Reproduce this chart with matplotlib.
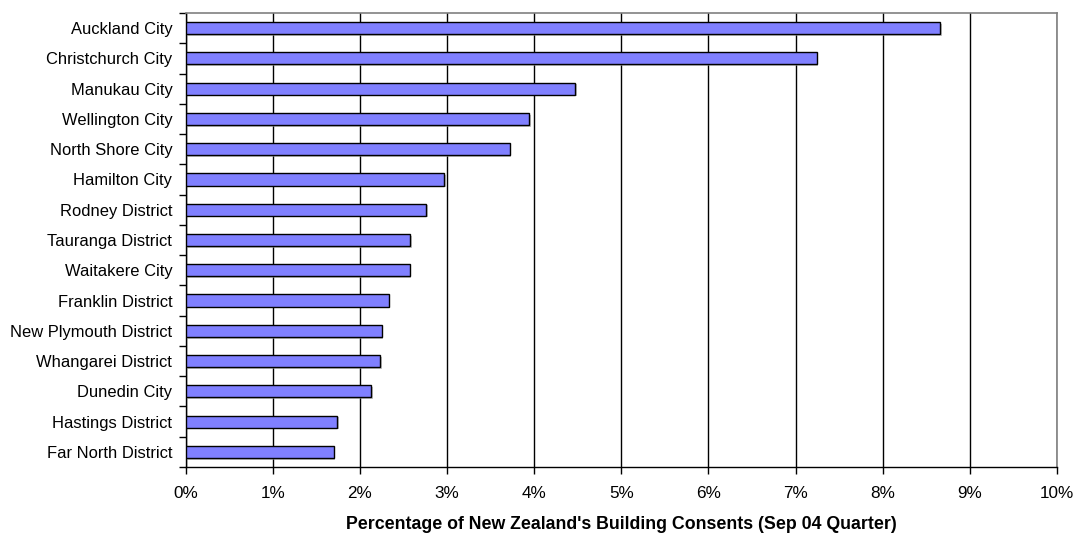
import matplotlib
matplotlib.use("Agg")
import matplotlib.pyplot as plt
import matplotlib.patheffects as pe
from matplotlib.ticker import FuncFormatter, MultipleLocator
import numpy as np

plt.rcParams['font.family'] = ['Liberation Sans', 'DejaVu Sans']

councils = ['Auckland City', 'Christchurch City', 'Manukau City', 'Wellington City',
            'North Shore City', 'Hamilton City', 'Rodney District', 'Tauranga District',
            'Waitakere City', 'Franklin District', 'New Plymouth District',
            'Whangarei District', 'Dunedin City', 'Hastings District', 'Far North District']
share = [8.66, 7.24, 4.47, 3.94, 3.72, 2.97, 2.76, 2.58, 2.57, 2.33, 2.25, 2.23, 2.13, 1.74, 1.70]

fig = plt.figure(figsize=(10.75, 5.33), dpi=100)
ax = fig.add_axes([0.1726, 0.1238, 0.9833 - 0.1726, 0.9756 - 0.1238])

y = np.arange(len(councils))
bars = ax.barh(y, share, height=0.4, color='#8080FF', edgecolor='black', linewidth=1.0,
               zorder=3)
for b in bars:
    b.set_path_effects([pe.SimplePatchShadow(offset=(1.2, -1.2), shadow_rgbFace='#999999',
                                             alpha=0.6), pe.Normal()])

ax.set_ylim(len(councils) - 0.5, -0.5)
ax.set_xlim(0, 10)

ax.set_yticks(y)
ax.set_yticklabels(councils, fontsize=11.9)
ax.set_yticks(np.arange(len(councils) + 1) - 0.5, minor=True)
ax.tick_params(axis='y', which='major', length=0, pad=9.5)
ax.tick_params(axis='y', which='minor', length=5, width=1, direction='out', color='black')

ax.xaxis.set_major_locator(MultipleLocator(1))
ax.xaxis.set_major_formatter(FuncFormatter(lambda v, p: f'{v:.0f}%'))
ax.tick_params(axis='x', which='major', length=5, width=1, direction='out', pad=9,
               labelsize=12.3)

ax.grid(axis='x', color='black', linewidth=1.0, zorder=0)
ax.set_axisbelow(True)

for side in ('top', 'right'):
    ax.spines[side].set_color('#808080')
    ax.spines[side].set_linewidth(1.2)
for side in ('left', 'bottom'):
    ax.spines[side].set_color('black')
    ax.spines[side].set_linewidth(1.0)

ax.set_xlabel("Percentage of New Zealand's Building Consents (Sep 04 Quarter)",
              fontsize=12.8, fontweight='bold', labelpad=10.5)

fig.savefig('out.png', dpi=100)
